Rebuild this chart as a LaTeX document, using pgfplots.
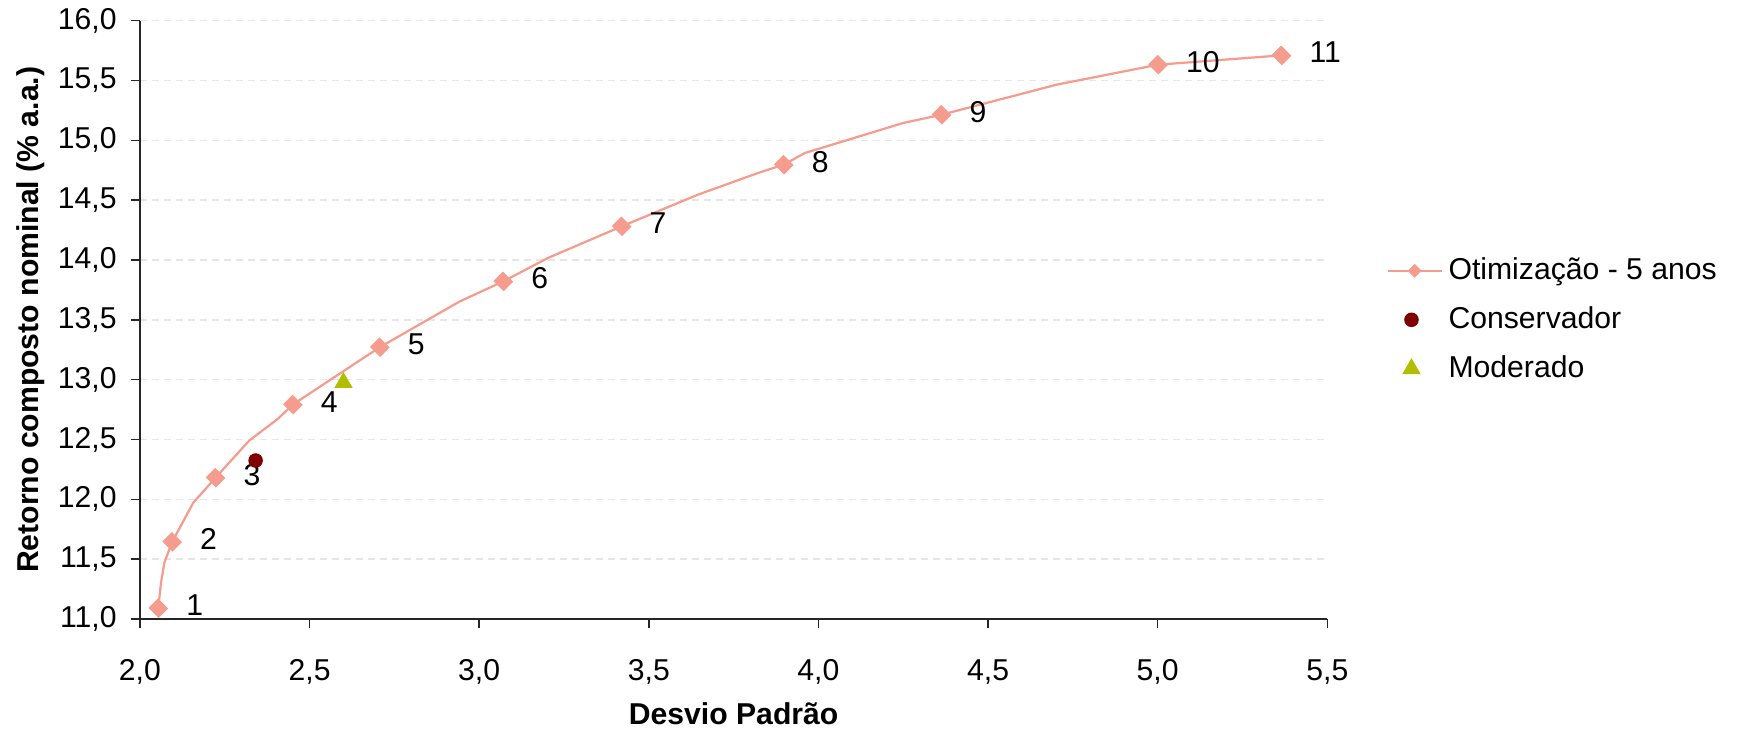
\documentclass[border=0pt]{standalone}
\usepackage{fontspec}
\setmainfont{Liberation Sans}
\usepackage{pgfplots}
\pgfplotsset{compat=1.18}
\definecolor{salmonc}{HTML}{F69C8E}
\definecolor{consc}{HTML}{800000}
\definecolor{modc}{HTML}{B3BD00}
\definecolor{gridc}{HTML}{E6E6E6}
\newcommand{\fs}{\fontsize{10.8}{13}\selectfont}
\begin{document}
\begin{tikzpicture}
\begin{axis}[
  scale only axis,
  width=425.1pt, height=214.2pt,
  xmin=2, xmax=5.5, ymin=11, ymax=16,
  xtick={2,2.5,...,5.5}, ytick={11,11.5,...,16},
  axis x line*=bottom, axis y line*=left,
  axis line style={draw=black!85, line width=0.5pt, -},
  tick style={draw=black!85, line width=0.5pt},
  tick align=outside, major tick length=3.1pt,
  minor tick num=0,
  tick label style={font=\fs, /pgf/number format/fixed, /pgf/number format/fixed zerofill, /pgf/number format/precision=1, /pgf/number format/use comma, /pgf/number format/assume math mode=true},
  xticklabel style={yshift=-8pt},
  yticklabel style={xshift=-1.7pt},
  xtick pos=bottom, ytick pos=left,
  ymajorgrids,
  grid style={draw=gridc, dash pattern=on 2.5pt off 1.8pt, line width=0.5pt},
  every axis x label/.style={at={(axis description cs:0.5,0)}, anchor=center, yshift=-34pt, font=\bfseries\fs},
  every axis y label/.style={at={(axis description cs:0,0.5)}, anchor=center, rotate=90, yshift=39pt, font=\bfseries\fs},
  xlabel={Desvio Padrão},
  ylabel={Retorno composto nominal (\% a.a.)},
  legend style={draw=none, fill=none, at={(axis description cs:1,0.5)}, anchor=west, xshift=18pt, font=\fs, row sep=4.2pt, legend cell align=left},
  clip=false,
]
% frontier line (including bends between markers)
\addplot[salmonc, line width=0.8pt, no markers,
  legend image code/.code={
    \draw[salmonc, line width=0.8pt] (0pt,0pt) -- (19.4pt,0pt);
    \fill[salmonc] (9.7pt,1.9pt) -- (11.6pt,0pt) -- (9.7pt,-1.9pt) -- (7.8pt,0pt) -- cycle;
  }] coordinates {
  (2.054,11.090) (2.062,11.300) (2.072,11.470) (2.095,11.644) (2.157,11.970)
  (2.223,12.181) (2.322,12.490) (2.406,12.671) (2.451,12.792)
  (2.707,13.271) (2.943,13.654) (3.071,13.821) (3.203,14.017)
  (3.420,14.281) (3.645,14.546) (3.822,14.727) (3.898,14.797)
  (3.960,14.894) (4.250,15.145) (4.363,15.214) (4.702,15.465)
  (5.001,15.632) (5.365,15.710)
};
\addlegendentry{Otimização - 5 anos}
% markers with labels
\addplot[only marks, mark=square*, mark size=2.2pt,
  mark options={draw=salmonc, fill=salmonc, rotate=45, yscale=1.08},
  point meta=explicit symbolic,
  nodes near coords,
  every node near coord/.style={anchor=west, xshift=6.5pt, yshift=1pt, font=\fs, text=black},
  forget plot] table[meta=lab] {
x y lab
2.054 11.090 1
2.095 11.644 2
2.223 12.181 3
2.451 12.792 4
2.707 13.271 5
3.071 13.821 6
3.420 14.281 7
3.898 14.797 8
4.363 15.214 9
5.001 15.632 10
5.365 15.710 11
};
\addplot[only marks, mark=*, mark size=2.4pt, mark options={draw=consc, fill=consc}] coordinates {(2.341,12.324)};
\addlegendentry{Conservador}
\addplot[only marks, mark=triangle*, mark size=3.4pt, mark options={draw=modc, fill=modc}] coordinates {(2.600,12.975)};
\addlegendentry{Moderado}
\end{axis}
\pgfresetboundingbox
\path (current axis.south west) ++(-50.1pt,-39.4pt) rectangle ++(622.6pt,261pt);
\end{tikzpicture}
\end{document}
